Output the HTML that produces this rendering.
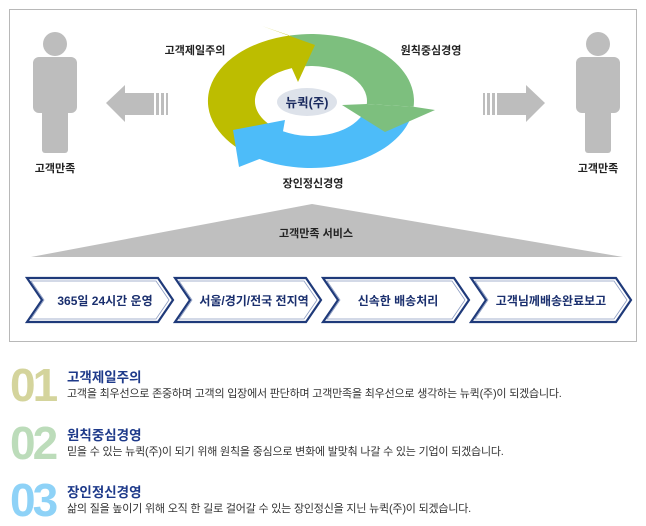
<!DOCTYPE html>
<html><head><meta charset="utf-8"><style>
body{margin:0;background:#fff;width:646px;height:526px;overflow:hidden;font-family:"Liberation Sans","Noto Sans CJK KR",sans-serif}
svg{position:absolute;left:0;top:0}
.n{position:absolute;font-family:"Liberation Sans Narrow","Liberation Sans",sans-serif;font-weight:bold;font-size:46px;letter-spacing:-3px;line-height:1}
.t{position:absolute;left:67px;font-size:13.5px;font-weight:bold;color:#1e3a8a}
.d{position:absolute;left:67px;font-size:11px;color:#333;letter-spacing:-0.2px}
</style></head><body>
<svg width="646" height="526" font-family="Liberation Sans, Noto Sans CJK KR, sans-serif">
<rect x="9.5" y="9.5" width="627" height="332" fill="#fff" stroke="#b8b8b8"/>
<g fill="#bdbdbd">
<circle cx="55" cy="44" r="12"/><rect x="33" y="57" width="44" height="56" rx="6"/><rect x="42" y="105" width="26" height="48" rx="3"/>
<circle cx="598" cy="44" r="12"/><rect x="576" y="57" width="44" height="56" rx="6"/><rect x="585" y="105" width="26" height="48" rx="3"/>
<polygon points="106,103 125,85 125,93 154,93 154,115 125,115 125,122"/>
<rect x="156" y="93" width="3" height="22"/><rect x="161" y="93" width="3" height="22"/><rect x="166" y="93" width="2" height="22"/>
<polygon points="545,103 526,85 526,93 497,93 497,115 526,115 526,122"/>
<rect x="492" y="93" width="3" height="22"/><rect x="487" y="93" width="3" height="22"/><rect x="483" y="93" width="2" height="22"/>
</g>
<g font-size="11" font-weight="bold" fill="#222" text-anchor="middle">
<text x="55" y="172">고객만족</text><text x="598" y="172">고객만족</text>
<text x="195" y="54">고객제일주의</text><text x="431" y="54">원칙중심경영</text><text x="313" y="187">장인정신경영</text>
</g>
<!-- cycle -->
<path d="M289.6,35.5 A103,67 0 0 1 413.6,106.8 L366.8,104 A56,35 0 0 0 299.4,66.8 Z" fill="#7dbf7e"/>
<path d="M252,156 A103,67 0 0 1 289.6,35.5 L262,26 L315,45 L298,82 L291.8,68.1 A56,35 0 0 0 278.9,129.7 Z" fill="#bdbd00"/>
<path d="M410.5,118.4 A103,67 0 0 1 259.5,159 L239,167 L233,130 L285,120 L283,131.3 A56,35 0 0 0 365.1,110.1 Z" fill="#4dbcf9"/>
<polygon points="413.6,106.8 435,110 385,132 342,105 366.8,104" fill="#7dbf7e"/>
<ellipse cx="307" cy="102" rx="30" ry="14" fill="#dde2ea"/>
<text x="307" y="107" font-size="12.5" font-weight="bold" fill="#1a2a5e" text-anchor="middle">뉴퀵(주)</text>
<polygon points="312,204 623,257 31,257" fill="#bfbfbf"/>
<text x="316" y="237" font-size="11" font-weight="bold" fill="#222" text-anchor="middle">고객만족 서비스</text>
<g fill="#fff" stroke="#1f3a7a" stroke-width="2.2">
<polygon points="27,278 158,278 173,300 158,322 27,322 42,300"/>
<polygon points="175,278 306,278 321,300 306,322 175,322 190,300"/>
<polygon points="323,278 454,278 469,300 454,322 323,322 338,300"/>
<polygon points="471,278 616,278 631,300 616,322 471,322 486,300"/>
</g>
<g fill="none" stroke="#8a9ac0" stroke-width="0.8">
<polygon points="31,281 156,281 169,300 156,319 31,319 44,300"/>
<polygon points="179,281 304,281 317,300 304,319 179,319 192,300"/>
<polygon points="327,281 452,281 465,300 452,319 327,319 340,300"/>
<polygon points="475,281 614,281 627,300 614,319 475,319 488,300"/>
</g>
<g font-size="12" font-weight="bold" fill="#1a2f6e" text-anchor="middle">
<text x="105" y="305">365일 24시간 운영</text><text x="254" y="305">서울/경기/전국 전지역</text>
<text x="398" y="305">신속한 배송처리</text><text x="551" y="305">고객님께배송완료보고</text>
</g>
</svg>
<div class="n" style="left:10px;top:362px;color:#d4d49c">01</div>
<div class="t" style="top:366px">고객제일주의</div>
<div class="d" style="top:385px">고객을 최우선으로 존중하며 고객의 입장에서 판단하며 고객만족을 최우선으로 생각하는 뉴퀵(주)이 되겠습니다.</div>
<div class="n" style="left:10px;top:420px;color:#bcdcba">02</div>
<div class="t" style="top:424px">원칙중심경영</div>
<div class="d" style="top:443px">믿을 수 있는 뉴퀵(주)이 되기 위해 원칙을 중심으로 변화에 발맞춰 나갈 수 있는 기업이 되겠습니다.</div>
<div class="n" style="left:10px;top:477px;color:#8ed2f7">03</div>
<div class="t" style="top:481px">장인정신경영</div>
<div class="d" style="top:500px">삶의 질을 높이기 위해 오직 한 길로 걸어갈 수 있는 장인정신을 지닌 뉴퀵(주)이 되겠습니다.</div>
</body></html>
